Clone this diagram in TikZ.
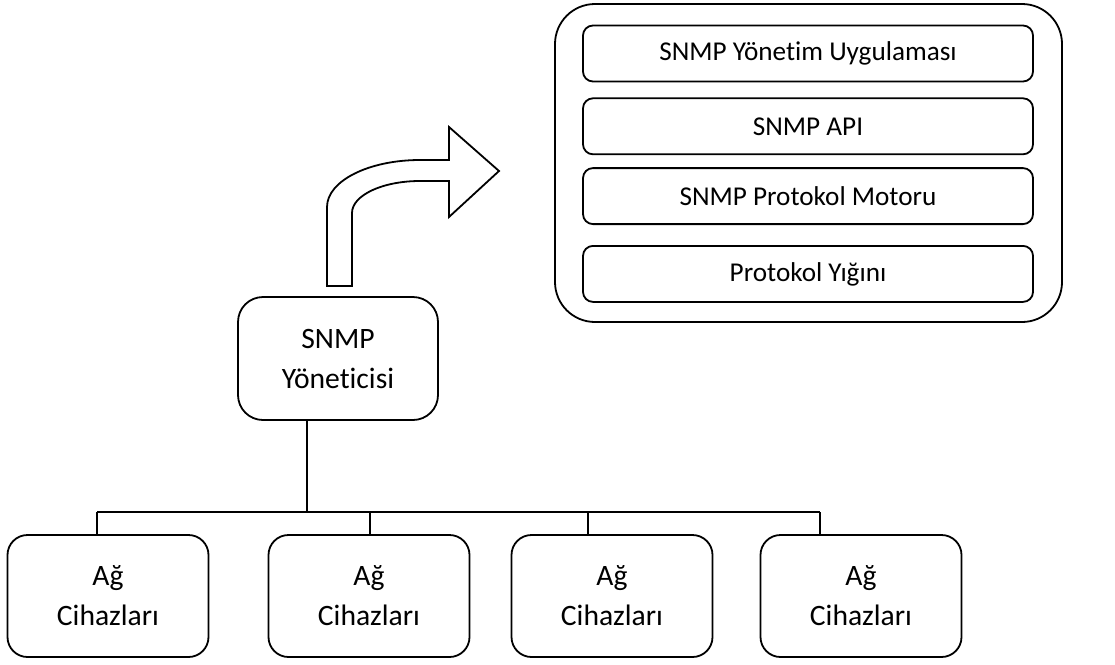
\documentclass[tikz,border=0pt]{standalone}
\usepackage{fontspec}
\setmainfont[Ligatures=NoCommon]{Carlito}
\usetikzlibrary{positioning}

\tikzset{
	box/.style = {draw, line width = 1.8pt, rounded corners = #1, align = center},
	stackbox/.style = {box = 10pt, minimum width = 450pt, minimum height = 56pt,
		font = \fontsize{27.2}{32}\selectfont},
	devbox/.style = {box = 20pt, minimum width = 201pt, minimum height = 122pt,
		font = \fontsize{29.6}{40}\selectfont},
	link/.style = {line width = 1.8pt}
}

\begin{document}
\begin{tikzpicture}[x = 1pt, y = -1pt]
\useasboundingbox (0, 0) rectangle (1115, 664);

\node[box = 40pt, minimum width = 507pt, minimum height = 318pt] (stack) at (808.5, 163) {};
\node[stackbox] (app) at (808, 53.5) {SNMP Yönetim Uygulaması};
\node[stackbox, below = 15pt of app] (api) {SNMP API};
\node[stackbox, below = 12pt of api] (engine) {SNMP Protokol Motoru};
\node[stackbox, below = 20pt of engine] (proto) {Protokol Yığını};

\node[devbox, rounded corners = 25pt, minimum width = 200pt, minimum height = 123pt]
(manager) at (338, 358.5) {SNMP\\Yöneticisi};

\draw[line width = 1.8pt, fill = white] (327, 286) -- (327, 207)
	.. controls (327, 181) and (368.6, 160) .. (420, 160) -- (449, 160) -- (449, 127)
	-- (499, 171) -- (449, 217) -- (449, 181) -- (420, 181)
	.. controls (382.4, 181) and (352, 195.3) .. (352, 213) -- (352, 286) -- cycle;

\coordinate (busL) at (97, 512);
\coordinate (busR) at (820, 512);
\coordinate (trunk) at (307, 512);
\draw[link] (trunk |- manager.south) -- (trunk);
\draw[link] (busL) -- (busR);

\foreach \i/\cx/\dx in {
	1/108/97,
	2/369/370,
	3/612/588,
	4/861/820
	}
{
\node[devbox] (dev\i) at (\cx, 596) {Ağ\\Cihazları};
\coordinate (drop\i) at (\dx, 512);
\draw[link] (drop\i) -- (drop\i |- dev\i.north);
}

\end{tikzpicture}
\end{document}
